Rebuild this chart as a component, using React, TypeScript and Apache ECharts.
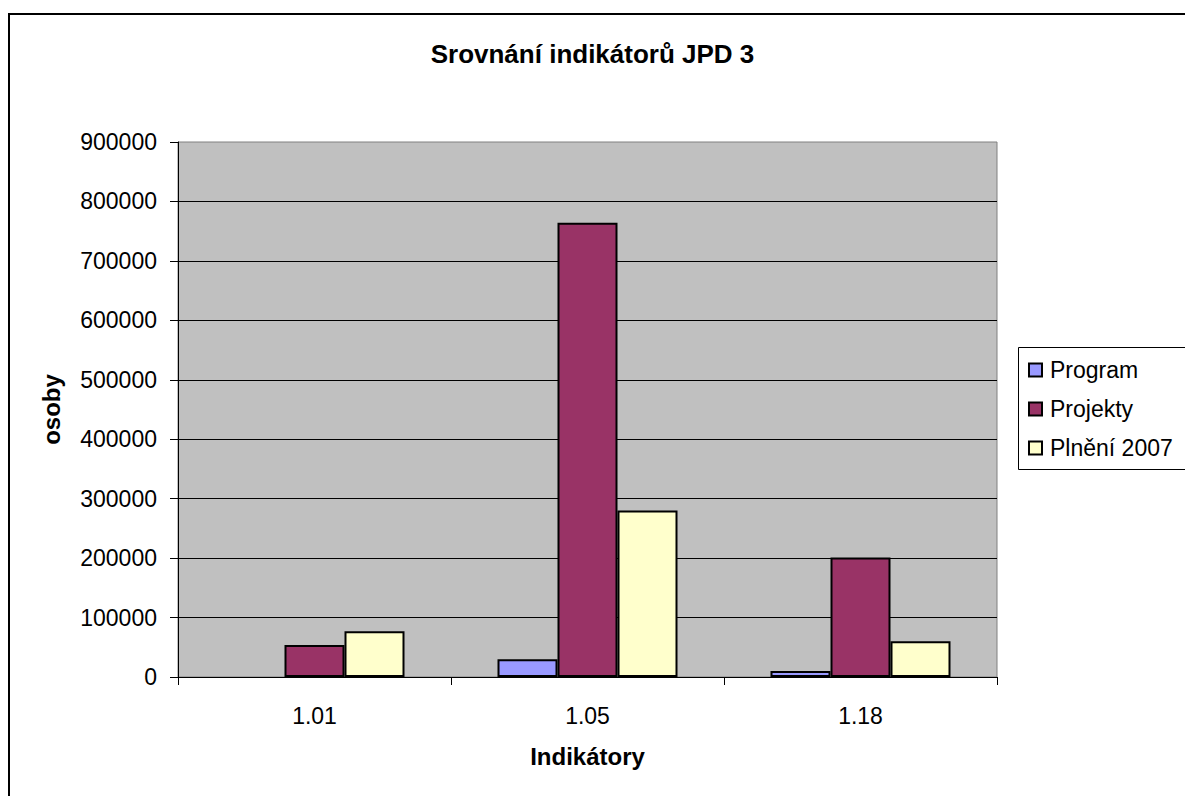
import React, { useEffect, useRef } from "react";
import * as echarts from "echarts";

const categories = ["1.01", "1.05", "1.18"];
const seriesNames = ["Program", "Projekty", "Plnění 2007"];
const programValues = [0, 30000, 10000];
const projektyValues = [54000, 764000, 201000];
const plneniValues = [77000, 280000, 60000];
const yTicks = { min: 0, max: 900000, interval: 100000 };
const colors = ["#9999FF", "#993366", "#FFFFCC"];

const FONT = "'Liberation Sans', Arial, Helvetica, sans-serif";

export default function App() {
  const ref = useRef<HTMLDivElement>(null);
  useEffect(() => {
    document.body.style.margin = "0";
    document.body.style.overflow = "hidden";
    const chart = echarts.init(ref.current!, null, { renderer: "svg" });
    const values = [programValues, projektyValues, plneniValues];
    chart.setOption({
      animation: false,
      backgroundColor: "#ffffff",
      textStyle: { fontFamily: FONT, color: "#000" },
      title: {
        text: "Srovnání indikátorů JPD 3",
        left: "center",
        top: 41,
        padding: 0,
        textStyle: { fontFamily: FONT, fontSize: 26, fontWeight: "bold", color: "#000" },
      },
      graphic: [
        {
          type: "rect",
          z: 100,
          silent: true,
          shape: { x: 9, y: 14, width: 1400, height: 1000 },
          style: { fill: "none", stroke: "#000", lineWidth: 2 },
        },
        {
          type: "rect",
          z: 0,
          silent: true,
          shape: { x: 1018.5, y: 347.5, width: 300, height: 122 },
          style: { fill: "#fff", stroke: "#000", lineWidth: 1 },
        },
      ],
      legend: {
        orient: "vertical",
        left: 1028,
        top: 358,
        padding: 0,
        itemWidth: 13,
        itemHeight: 13,
        itemGap: 15,
        icon: "rect",
        data: seriesNames,
        textStyle: { fontFamily: FONT, fontSize: 23, lineHeight: 24, color: "#000", padding: [0, 0, 0, 3] },
      },
      grid: {
        left: 178,
        top: 142,
        width: 819,
        height: 535,
        show: true,
        backgroundColor: "#C0C0C0",
        borderColor: "#808080",
        borderWidth: 1,
        containLabel: false,
      },
      xAxis: {
        type: "category",
        data: categories,
        name: "Indikátory",
        nameLocation: "middle",
        nameGap: 67,
        nameTextStyle: { fontFamily: FONT, fontSize: 24, fontWeight: "bold", color: "#000" },
        axisLine: { show: true, lineStyle: { color: "#000", width: 1 } },
        axisTick: { show: true, length: 8, lineStyle: { color: "#000" } },
        axisLabel: { fontFamily: FONT, fontSize: 23, color: "#000", margin: 27 },
        splitLine: { show: false },
      },
      yAxis: {
        type: "value",
        min: yTicks.min,
        max: yTicks.max,
        interval: yTicks.interval,
        name: "osoby",
        nameLocation: "middle",
        nameGap: 127,
        nameTextStyle: {
          fontFamily: FONT,
          fontSize: 24,
          fontWeight: "bold",
          color: "#000",
          verticalAlign: "middle",
        },
        axisLine: { show: true, lineStyle: { color: "#000", width: 1 } },
        axisTick: { show: true, length: 8, lineStyle: { color: "#000" } },
        axisLabel: {
          fontFamily: FONT,
          fontSize: 23,
          color: "#000",
          margin: 21,
          formatter: (v: number) => String(v),
        },
        splitLine: { show: true, showMaxLine: false, lineStyle: { color: "#000", width: 1 } },
      },
      series: seriesNames.map((name, i) => ({
        name,
        type: "bar",
        data: values[i].map((v) => (v === 0 ? { value: v, itemStyle: { borderWidth: 0 } } : v)),
        barWidth: 60,
        barGap: "0%",
        itemStyle: { color: colors[i], borderColor: "#000", borderWidth: 2 },
      })),
    });
    return () => chart.dispose();
  }, []);
  return <div ref={ref} style={{ width: 1185, height: 796 }} />;
}
